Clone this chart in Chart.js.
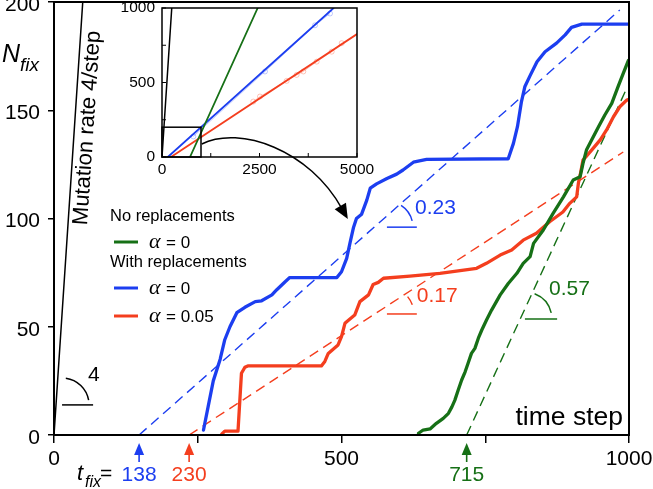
<!DOCTYPE html>
<html><head><meta charset="utf-8">
<script src="https://cdn.jsdelivr.net/npm/chart.js@4.4.1/dist/chart.umd.min.js"></script>
<style>
html,body{margin:0;padding:0;background:#fff;}
#wrap{position:relative;width:653px;height:489px;overflow:hidden;}
#main{position:absolute;left:0;top:0;width:653px;height:489px;}
#inset{position:absolute;left:100px;top:0;width:280px;height:190px;}
</style></head><body>
<div id="wrap"><canvas id="main" width="653" height="489"></canvas><canvas id="inset" width="280" height="190"></canvas></div>
<script>
// ---------- DATA (main panel) ----------
const xTickLabels = ['0', '', '500', '', '1000'];
const yTickLabels = ['0', '50', '100', '150', '200'];
const mutationLine = [[0, 0], [50, 200]];
const blueRepl = [[260,2.3],[268,13],[277,25],[289,35],[297,44],[306,50],[318,56.5],[332,59],[350,61.6],[361,62],[379,64.7],[387,67],[402,70.8],[410,72.7],[492,72.7],[500,75.4],[509,81.6],[515,89],[521,96],[526,100],[535,102],[544,108.5],[550,114],[561,116],[579,118.5],[596,120.5],[607,122.4],[625,126],[648,127.3],[790,127.6],[799,134.7],[806,142.4],[813,154],[819,161],[828,166],[840,172.4],[854,177],[874,181],[889,184.8],[900,188.3],[918,189.8],[1000,189.8]];
const redRepl = [[292,0.5],[297,1.8],[320,1.8],[326,28.5],[332,31.3],[337,31.9],[465,31.9],[471,34],[477,37.7],[494,41.6],[500,45.4],[506,51.6],[509,52.3],[523,55.4],[532,61.6],[547,64.7],[555,69.5],[564,70.5],[573,72.4],[619,73.4],[671,74.7],[735,77],[752,79.3],[776,83.1],[796,85.5],[816,90],[839,93.2],[862,98.5],[885,103],[897,107],[909,110],[912,116.3],[915,120],[920,127],[935,131.6],[950,136.3],[961,140.9],[973,147],[984,151.6],[996,154.7],[1000,155]];
const greenNoRepl = [[634,0.8],[642,2.3],[654,2.8],[665,5.4],[677,7.7],[686,10],[692,13],[697,16],[703,20.8],[709,25.4],[715,29.2],[720,33],[726,37.7],[732,40],[738,44.7],[744,48.5],[752,53],[761,57.7],[776,64.7],[790,70],[805,74.7],[816,79.3],[828,82.4],[834,88.5],[851,94.7],[868,102.4],[886,110],[903,117.8],[915,119.3],[920,125.5],[926,131.6],[935,136.3],[947,142.4],[958,147.8],[970,153.2],[981,160.9],[990,167],[999,173]];
const fitBlue = [[148, 0], [984, 196.3]];
const fitRed = [[235, 0], [990, 130.7]];
const fitGreen = [[717.7, 0], [996, 160.1]];
const tfixPos = [148, 235, 717.7];
const tfixText = ['138', '230', '715'];
const slopeText = ['4', '0.23', '0.17', '0.57'];
// ---------- DATA (inset) ----------
const insetXTickLabels = ['0', '', '2500', '', '5000'];
const insetYTickLabels = ['0', '', '500', '', '1000'];
const insetMutation = [[0, 0], [250, 1000]];
const insetGreen = [[718, 0], [2454, 1000]];
const insetBlue = [[150, 0], [4400, 1000]];
const insetRed = [[230, 0], [5000, 825]];
const insetBluePts = [[803,138],[2641,574],[3923,884],[4308,963]];
const insetRedPts = [[2341,372],[2513,406],[3197,511],[3453,551],[3624,574],[3966,640],[4351,707],[4607,764]];
const zoomBox = [[0, 0], [1000, 200]];

// ---------- STYLE ----------
const BLUE = 'rgb(28,62,240)', RED = 'rgb(244,62,30)', GREEN = 'rgb(22,112,22)';
const FONT = '"Liberation Sans", Arial, sans-serif';
Chart.defaults.font.family = FONT;
Chart.defaults.color = '#000';

const pts = a => a.map(p => ({x: p[0], y: p[1]}));
const solid = (d, c, w) => ({data: pts(d), showLine: true, borderColor: c, borderWidth: w, pointRadius: 0, fill: false, tension: 0, borderJoinStyle: 'round', borderCapStyle: 'round'});
const dashed = (d, c) => ({data: pts(d), showLine: true, borderColor: c, borderWidth: 1.4, borderDash: [10, 6], pointRadius: 0, fill: false});

// slope marks (data coordinates of the main panel)
const marks = [
  {x0: 14, x1: 68, y: 13.9, a0: -82, a1: -10, r: 27, tx: 59, ty: 27.7, color: '#000', text: slopeText[0]},
  {x0: 579, x1: 631, y: 96, a0: -57, a1: -14, r: 26, tx: 628, ty: 104.8, color: BLUE, text: slopeText[1]},
  {x0: 579, x1: 631, y: 55.9, a0: -40, a1: -20, r: 27, tx: 631, ty: 64.2, color: RED, text: slopeText[2]},
  {x0: 819, x1: 875, y: 53.6, a0: -69, a1: -13, r: 27, tx: 861, ty: 67.4, color: GREEN, text: slopeText[3]}
];
// curved pointer arrow (main panel data coordinates)
const pointer = {p0: [257, 134.4], c1: [323, 143.2], c2: [445, 131.6], p1: [501, 104.4], tip: [511, 99.8]};

const annot = {
  id: 'annot',
  afterDatasetsDraw(chart) {
    const {ctx, chartArea: ca, scales: {x, y}} = chart;
    const px = v => x.getPixelForValue(v), py = v => y.getPixelForValue(v);
    ctx.save();
    // frame
    ctx.strokeStyle = '#000'; ctx.lineWidth = 2;
    ctx.strokeRect(ca.left, ca.top, ca.right - ca.left, ca.bottom - ca.top);
    // slope marks
    marks.forEach(m => {
      ctx.strokeStyle = m.color; ctx.lineWidth = 1.5;
      const cx = px(m.x0), cy = py(m.y);
      ctx.beginPath(); ctx.moveTo(cx, cy); ctx.lineTo(px(m.x1), cy); ctx.stroke();
      ctx.beginPath(); ctx.arc(cx, cy, m.r, m.a0 * Math.PI / 180, m.a1 * Math.PI / 180); ctx.stroke();
      ctx.fillStyle = m.color; ctx.font = '21px ' + FONT; ctx.textAlign = 'left'; ctx.textBaseline = 'middle';
      ctx.fillText(m.text, px(m.tx), py(m.ty));
    });
    // rotated mutation label
    ctx.save();
    ctx.translate(87.5, 128);
    ctx.rotate(-86.2 * Math.PI / 180);
    ctx.fillStyle = '#000'; ctx.font = '22px ' + FONT; ctx.textAlign = 'center'; ctx.textBaseline = 'middle';
    ctx.fillText('Mutation rate 4/step', 0, 0);
    ctx.restore();
    // axis titles
    ctx.fillStyle = '#000'; ctx.textAlign = 'left'; ctx.textBaseline = 'alphabetic';
    ctx.font = 'italic 25px ' + FONT; ctx.fillText('N', 2, 62);
    ctx.font = 'italic 19px ' + FONT; ctx.fillText('fix', 20, 71);
    ctx.font = '26.5px ' + FONT; ctx.textAlign = 'right'; ctx.fillText('time step', 623, 425);
    // t_fix row
    ctx.textAlign = 'left';
    ctx.font = 'italic 22px ' + FONT; ctx.fillText('t', 77, 480);
    ctx.font = 'italic 16px ' + FONT; ctx.fillText('fix', 85, 487);
    ctx.font = '21px ' + FONT; ctx.fillText('=', 100, 480);
    const cols = [BLUE, RED, GREEN];
    tfixPos.forEach((v, i) => {
      const xx = px(v), b = ca.bottom;
      ctx.fillStyle = cols[i]; ctx.strokeStyle = cols[i]; ctx.lineWidth = 1.6;
      ctx.beginPath(); ctx.moveTo(xx, b + 18); ctx.lineTo(xx, b + 27); ctx.stroke();
      ctx.beginPath(); ctx.moveTo(xx, b + 8); ctx.lineTo(xx - 5, b + 20); ctx.lineTo(xx + 5, b + 20); ctx.closePath(); ctx.fill();
      ctx.font = '21px ' + FONT; ctx.textAlign = 'center';
      ctx.fillText(tfixText[i], xx, b + 46);
    });
    // legend
    ctx.textAlign = 'left'; ctx.fillStyle = '#000';
    ctx.font = '16.5px ' + FONT;
    ctx.fillText('No replacements', 110, 221);
    ctx.fillText('With replacements', 110, 267);
    const leg = [[GREEN, 242, '0'], [BLUE, 288, '0'], [RED, 316, '0.05']];
    leg.forEach(l => {
      ctx.strokeStyle = l[0]; ctx.lineWidth = 3;
      ctx.beginPath(); ctx.moveTo(114, l[1]); ctx.lineTo(138, l[1]); ctx.stroke();
      ctx.fillStyle = '#000';
      ctx.font = 'italic 22px "Liberation Serif", "DejaVu Serif", serif'; ctx.fillText('\u03b1', 149, l[1] + 6);
      ctx.font = '17px ' + FONT; ctx.fillText('= ' + l[2], 166, l[1] + 6);
    });
    // curved pointer
    ctx.strokeStyle = '#000'; ctx.fillStyle = '#000'; ctx.lineWidth = 1.5;
    const P = p => [px(p[0]), py(p[1])];
    const a = P(pointer.p0), c1 = P(pointer.c1), c2 = P(pointer.c2), b = P(pointer.p1), t = P(pointer.tip);
    ctx.beginPath(); ctx.moveTo(a[0], a[1]); ctx.bezierCurveTo(c1[0], c1[1], c2[0], c2[1], b[0], b[1]); ctx.stroke();
    const ang = Math.atan2(t[1] - b[1], t[0] - b[0]);
    const L = 15, W = 6.5;
    const bx = t[0] - L * Math.cos(ang), by = t[1] - L * Math.sin(ang);
    ctx.beginPath(); ctx.moveTo(t[0], t[1]);
    ctx.lineTo(bx - W * Math.sin(ang), by + W * Math.cos(ang));
    ctx.lineTo(bx + W * Math.sin(ang), by - W * Math.cos(ang));
    ctx.closePath(); ctx.fill();
    ctx.restore();
  }
};

new Chart(document.getElementById('main'), {
  type: 'scatter',
  data: {datasets: [
    solid(blueRepl, BLUE, 3.3),
    solid(greenNoRepl, GREEN, 3.3),
    solid(redRepl, RED, 3.3),
    solid(mutationLine, '#000', 1.5),
    dashed(fitBlue, BLUE),
    dashed(fitRed, RED),
    dashed(fitGreen, GREEN)
  ]},
  options: {
    responsive: false, animation: false, events: [],
    layout: {padding: {top: 2, right: 24, left: 0, bottom: 0}},
    plugins: {legend: {display: false}, tooltip: {enabled: false}},
    scales: {
      x: {type: 'linear', min: 0, max: 1000,
        ticks: {stepSize: 250, autoSkip: false, maxRotation: 0, padding: 4, font: {size: 21}, color: '#000',
          callback: (v, i) => xTickLabels[i]},
        grid: {display: true, drawOnChartArea: false, drawTicks: true, tickLength: 8, color: '#000', lineWidth: 1.5},
        border: {display: true, color: '#000', width: 2},
        afterFit: s => { s.height = 54; s.paddingLeft = 0; s.paddingRight = 0; }
      },
      y: {type: 'linear', min: 0, max: 200,
        ticks: {stepSize: 50, autoSkip: false, padding: 8, labelOffset: 3, font: {size: 21}, color: '#000',
          callback: (v, i) => yTickLabels[i]},
        grid: {display: true, drawOnChartArea: false, drawTicks: true, tickLength: 6, color: '#000', lineWidth: 1.5},
        border: {display: true, color: '#000', width: 2},
        afterFit: s => { s.width = 54; s.paddingTop = 0; s.paddingBottom = 0; }
      }
    }
  },
  plugins: [annot]
});

// ---------- inset ----------
const insetPlugin = {
  id: 'insetAnnot',
  afterDatasetsDraw(chart) {
    const {ctx, chartArea: ca, scales: {x, y}} = chart;
    ctx.save();
    ctx.strokeStyle = '#000'; ctx.lineWidth = 1.5;
    ctx.strokeRect(ca.left, ca.top, ca.right - ca.left, ca.bottom - ca.top);
    ctx.lineWidth = 1;
    x.ticks.forEach(t => { const xx = x.getPixelForValue(t.value); ctx.beginPath(); ctx.moveTo(xx, ca.bottom); ctx.lineTo(xx, ca.bottom - 4); ctx.stroke(); });
    y.ticks.forEach(t => { const yy = y.getPixelForValue(t.value); ctx.beginPath(); ctx.moveTo(ca.left, yy); ctx.lineTo(ca.left + 4, yy); ctx.stroke(); });
    // zoom box
    ctx.lineWidth = 1.5;
    const x0 = x.getPixelForValue(zoomBox[0][0]), x1 = x.getPixelForValue(zoomBox[1][0]);
    const y0 = y.getPixelForValue(zoomBox[0][1]), y1 = y.getPixelForValue(zoomBox[1][1]);
    ctx.strokeRect(x0, y1, x1 - x0, y0 - y1);
    ctx.restore();
  }
};
const faint = (d, c) => ({data: pts(d), showLine: true, borderColor: c, borderWidth: 0.8, pointRadius: 2.5, pointBorderColor: c, pointBackgroundColor: 'rgba(0,0,0,0)', pointBorderWidth: 0.8});
new Chart(document.getElementById('inset'), {
  type: 'scatter',
  data: {datasets: [
    solid(insetMutation, '#000', 1.5),
    solid(insetGreen, GREEN, 1.8),
    solid(insetBlue, BLUE, 1.8),
    solid(insetRed, RED, 1.8),
    faint(insetBluePts, 'rgba(120,140,250,0.6)'),
    faint(insetRedPts, 'rgba(250,130,110,0.6)')
  ]},
  options: {
    responsive: false, animation: false, events: [],
    layout: {padding: {top: 8, right: 23, left: 0, bottom: 0}},
    plugins: {legend: {display: false}, tooltip: {enabled: false}},
    scales: {
      x: {type: 'linear', min: 0, max: 5000,
        ticks: {stepSize: 1250, autoSkip: false, maxRotation: 0, padding: 3, font: {size: 15.5}, color: '#000',
          callback: (v, i) => insetXTickLabels[i]},
        grid: {display: false, drawTicks: false},
        border: {display: false},
        afterFit: s => { s.height = 33; s.paddingLeft = 0; s.paddingRight = 0; }
      },
      y: {type: 'linear', min: 0, max: 1000,
        ticks: {stepSize: 250, autoSkip: false, padding: 7, font: {size: 15.5}, color: '#000',
          callback: (v, i) => insetYTickLabels[i]},
        grid: {display: false, drawTicks: false},
        border: {display: false},
        afterFit: s => { s.width = 62; s.paddingTop = 0; s.paddingBottom = 0; }
      }
    }
  },
  plugins: [insetPlugin]
});
</script>
</body></html>
